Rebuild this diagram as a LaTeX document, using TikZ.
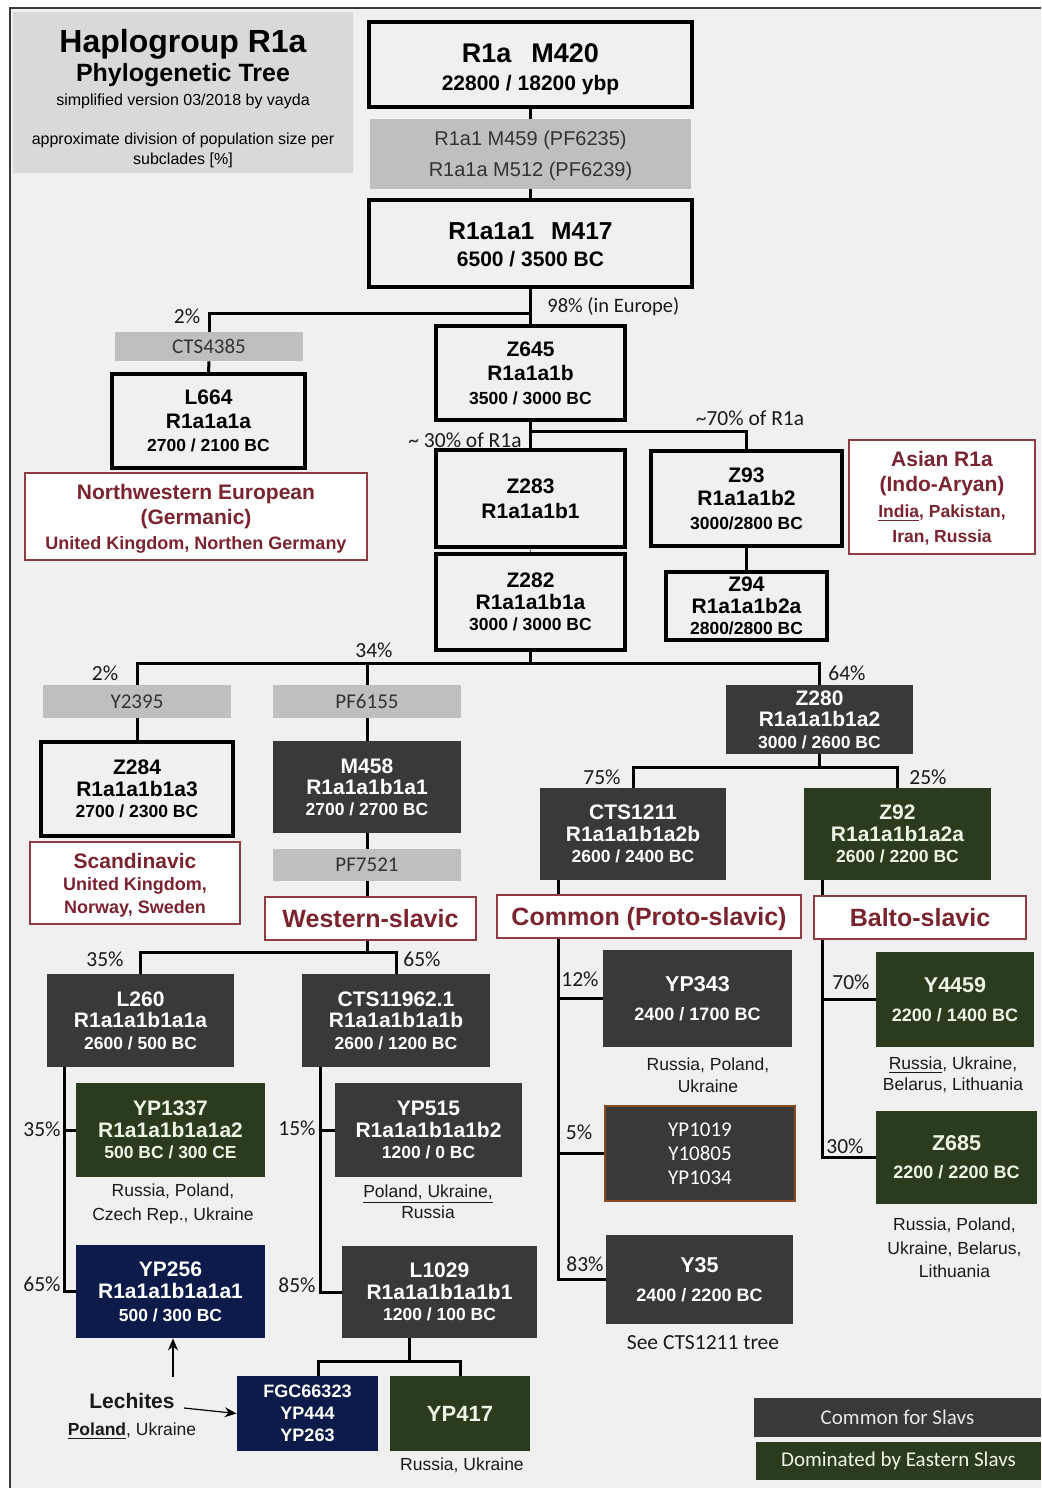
\documentclass[tikz,border=0pt]{standalone}
\usepackage{fontspec}
\setmainfont{Liberation Sans}
\newfontfamily\calib{Carlito}
\usetikzlibrary{arrows.meta}
\definecolor{bgc}{HTML}{F0F0F0}
\definecolor{tgray}{HTML}{D9D9D9}
\definecolor{mgray}{HTML}{BFBFBF}
\definecolor{mtxt}{HTML}{333333}
\definecolor{dk}{HTML}{3B3838}
\definecolor{grn}{HTML}{2B3C1E}
\definecolor{grntxt}{HTML}{EEF5E6}
\definecolor{nav}{HTML}{0D1B4A}
\definecolor{redt}{HTML}{7A2430}
\definecolor{redb}{HTML}{8E3B42}
\definecolor{brn}{HTML}{8A4A22}
\definecolor{frm}{HTML}{3A3A3A}
\definecolor{lgt}{HTML}{E8E8E8}
\definecolor{captc}{HTML}{1A1A1A}
\newcommand\fz[2]{\fontsize{#1}{#2}\selectfont}
\newcommand\dt[1]{{\fz{8.75}{11}#1}}
\newcommand\nodp[1]{\raisebox{0pt}[\height][0pt]{#1}}
\newcommand\bx[7]{%
  \pgfmathsetmacro\bxw{(#4-#2)*0.5}%
  \pgfmathsetmacro\bxh{(#5-#3)*0.5}%
  \node[#6,minimum width=\bxw pt,minimum height=\bxh pt] (#1) at ({(#2+#4)/2},{(#3+#5)/2}) {#7};}
\tikzset{
 wb/.style={draw=black,line width=1.6pt,fill=bgc,inner sep=0pt,align=center,text=black},
 db/.style={fill=dk,inner sep=0pt,align=center,text=white},
 gb/.style={fill=grn,inner sep=0pt,align=center,text=grntxt},
 nb/.style={fill=nav,inner sep=0pt,align=center,text=white},
 mb/.style={fill=mgray,inner sep=0pt,align=center,text=mtxt,font=\calib\fz{10.5}{12}},
 rb/.style={draw=redb,line width=0.8pt,fill=white,inner sep=0pt,align=center,text=redt},
 con/.style={line width=1.5pt,draw=black},
 thincon/.style={line width=0.7pt,draw=black!60},
 pct/.style={inner sep=0pt,font=\calib\fz{10.75}{12},text=captc},
 capt/.style={inner sep=0pt,align=center,anchor=north,text=captc},
 arr/.style={-{Stealth[length=6pt,width=5pt]},line width=0.6pt,draw=black},
}
\begin{document}
\lineskiplimit=-100pt
\begin{tikzpicture}[x=0.5pt,y=-0.5pt]
\useasboundingbox (0,0) rectangle (1041,1488);
% frame
\fill[bgc] (10,8) rectangle (1041,1488);
\draw[frm,line width=1pt] (10,1488) -- (10,8) -- (1041,8);
% title
\bx{title}{13}{12}{353}{173}{fill=tgray,inner sep=0pt}{}
\node[anchor=north,align=center,inner sep=0pt,font=\fz{8}{10},text=black] (ttl) at (183,28.5)
 {{\bfseries\fz{16}{10}Haplogroup R1a}\\[4.5pt]{\bfseries\fz{12.5}{10}Phylogenetic Tree}\\[2pt]simplified version 03/2018 by vayda\\[9.5pt]approximate division of population size per\\subclades [\%]};
% top part
\bx{top}{369}{22}{692}{107}{wb,font=\bfseries\fz{10.5}{14}}{{\fz{13.5}{14}\rule{0pt}{11.9pt}R1a\hspace{10pt}M420}\\\smash{22800 / 18200 ybp}}
\bx{gray1}{370}{119}{691}{189}{mb,font=\fz{10}{15.5}}{R1a1 M459 (PF6235)\\\smash{R1a1a M512 (PF6239)}}
\bx{M417}{369}{200}{692}{287}{wb,font=\bfseries\fz{10.5}{13.5}}{{\fz{12.25}{13.5}\rule{0pt}{9.9pt}R1a1a1\hspace{8.5pt}M417}\\6500 / 3500 BC}
\bx{CTS4385}{115}{332}{303}{361}{mb}{CTS4385}
\bx{L664}{112}{374}{305}{468}{wb,font=\bfseries\fz{10.5}{11.75}}{L664\\R1a1a1a\\\dt{2700 / 2100 BC}}
\bx{NWE}{25}{473}{367}{560}{rb,font=\bfseries\fz{10.5}{12.5}}{Northwestern European\\(Germanic)\\\smash{\fz{9}{12.5}United Kingdom, Northen Germany}}
\bx{Z645}{436}{326}{625}{420}{wb,font=\bfseries\fz{10.5}{12}}{Z645\\R1a1a1b\\\dt{3500 / 3000 BC}}
\bx{Z283}{436}{450}{625}{547}{wb,font=\bfseries\fz{10.5}{12.5}}{Z283\\R1a1a1b1}
\bx{Z282}{436}{554}{625}{650}{wb,font=\bfseries\fz{10.5}{10.75}}{Z282\\R1a1a1b1a\\\dt{3000 / 3000 BC}}
\bx{Z93}{651}{451}{842}{546}{wb,font=\bfseries\fz{10.5}{11.75}}{Z93\\R1a1a1b2\\\dt{3000/2800 BC}}
\bx{Z94}{666}{572}{827}{640}{wb,font=\bfseries\fz{10.5}{10.75}}{Z94\\R1a1a1b2a\\\dt{2800/2800 BC}}
\bx{Asian}{849}{440}{1035}{554}{rb,font=\bfseries\fz{10.5}{12.75}}{Asian R1a\\(Indo-Aryan)\\{\fz{8.75}{12.75}\underline{India}, Pakistan,}\\\smash{\fz{8.75}{12.75}Iran, Russia}}
% level Z282 children
\bx{Y2395}{43}{685}{231}{718}{mb}{Y2395}
\bx{Z284}{41}{742}{233}{836}{wb,font=\bfseries\fz{10.5}{10.75}}{Z284\\R1a1a1b1a3\\\dt{2700 / 2300 BC}}
\bx{Scand}{30}{842}{240}{924}{rb,font=\bfseries\fz{10.5}{11.25}}{Scandinavic\\{\fz{9}{11.25}United Kingdom,}\\\smash{\fz{9}{11.25}Norway, Sweden}}
\bx{PF6155}{273}{685}{461}{718}{mb}{PF6155}
\bx{M458}{273}{741}{461}{833}{db,font=\bfseries\fz{10.5}{10.5}}{M458\\R1a1a1b1a1\\\dt{2700 / 2700 BC}}
\bx{PF7521}{273}{849}{461}{881}{mb}{PF7521}
\bx{WS}{265}{897}{476}{940}{rb,font=\bfseries\fz{12.5}{14}}{Western-slavic}
\bx{Z280}{726}{685}{913}{754}{db,font=\bfseries\fz{10.5}{10.75}}{Z280\\R1a1a1b1a2\\\dt{3000 / 2600 BC}}
\bx{CTS1211}{540}{788}{726}{880}{db,font=\bfseries\fz{10.5}{10.75}}{CTS1211\\R1a1a1b1a2b\\\dt{2600 / 2400 BC}}
\bx{Z92}{804}{788}{991}{880}{gb,font=\bfseries\fz{10.5}{10.75}}{Z92\\R1a1a1b1a2a\\\dt{2600 / 2200 BC}}
\bx{Common}{497}{895}{801}{938}{rb,font=\bfseries\fz{12.5}{14}}{\nodp{Common (Proto-slavic)}}
\bx{Balto}{814}{896}{1026}{939}{rb,font=\bfseries\fz{12.5}{14}}{Balto-slavic}
% western slavic subtree
\bx{L260}{47}{974}{234}{1067}{db,font=\bfseries\fz{10.5}{10.75}}{L260\\R1a1a1b1a1a\\\dt{2600 / 500 BC}}
\bx{CTS11962}{302}{974}{490}{1067}{db,font=\bfseries\fz{10.5}{10.75}}{CTS11962.1\\R1a1a1b1a1b\\\dt{2600 / 1200 BC}}
\bx{YP1337}{76}{1083}{265}{1177}{gb,font=\bfseries\fz{10.5}{10.75}}{YP1337\\R1a1a1b1a1a2\\\dt{500 BC / 300 CE}}
\bx{YP256}{76}{1245}{265}{1338}{nb,font=\bfseries\fz{10.5}{11.25}}{YP256\\R1a1a1b1a1a1\\\dt{500 / 300 BC}}
\bx{YP515}{335}{1083}{522}{1177}{db,font=\bfseries\fz{10.5}{10.75}}{YP515\\R1a1a1b1a1b2\\\dt{1200 / 0 BC}}
\bx{L1029}{342}{1246}{537}{1338}{db,font=\bfseries\fz{10.5}{10.75}}{L1029\\R1a1a1b1a1b1\\\dt{1200 / 100 BC}}
\bx{FGC}{237}{1376}{378}{1451}{nb,font=\bfseries\fz{9}{11}}{FGC66323\\YP444\\YP263}
\bx{YP417}{390}{1376}{530}{1451}{gb,font=\bfseries\fz{11}{12}}{YP417}
% common / balto subtree
\bx{YP343}{603}{950}{792}{1047}{db,font=\bfseries\fz{10.75}{14.5}}{YP343\\{\fz{9}{14.5}2400 / 1700 BC}}
\bx{YP1019}{605}{1106}{795}{1201}{db,draw=brn,line width=0.8pt,font=\calib\fz{10.5}{12}}{YP1019\\Y10805\\YP1034}
\bx{Y35}{606}{1235}{793}{1324}{db,font=\bfseries\fz{10.75}{14.5}}{Y35\\{\fz{9}{14.5}2400 / 2200 BC}}
\bx{Y4459}{876}{952}{1034}{1047}{gb,font=\bfseries\fz{10.75}{14.5}}{Y4459\\{\fz{9}{14.5}2200 / 1400 BC}}
\bx{Z685}{876}{1111}{1037}{1204}{gb,font=\bfseries\fz{10.75}{14}}{Z685\\{\fz{9}{14}2200 / 2200 BC}}
% legend
\bx{leg1}{754}{1398}{1041}{1437}{db,text=lgt,font=\calib\fz{10.5}{12}}{Common for Slavs}
\bx{leg2}{756}{1442}{1041}{1480}{gb,font=\calib\fz{10.5}{12}}{Dominated by Eastern Slavs}
% connectors
\coordinate (j1) at (530.5,313);
\coordinate (j2) at (530.5,431);
\coordinate (j3) at (530.5,663);
\coordinate (j4) at (367,952);
\coordinate (j5) at (819.5,767);
\coordinate (j6) at (409,1361);
\coordinate (f1) at (318,1361);
\coordinate (t1) at (558,1279);
\coordinate (t2) at (822,1158);
\coordinate (t3) at (64,1291);
\coordinate (t4) at (320,1292);
\draw[con] (top.south) -- (gray1.north);
\draw[con] (gray1.south) -- (M417.north);
\draw[con] (M417.south) -- (Z645.north);
\draw[con] (j1) -| (CTS4385.north);
\draw[con] (CTS4385.south) -- (L664.north);
\draw[con] (Z645.south) -- (Z283.north);
\draw[con] (j2) -| (Z93.north);
\draw[thincon] (Z283.south) -- (Z282.north);
\draw[con] (Z93.south) -- (Z94.north);
\draw[con] (Z282.south) -- (j3);
\draw[con] (Y2395.north) |- (j3) -| (Z280.north);
\draw[con] (PF6155.north |- j3) -- (PF6155.north);
\draw[con] (Y2395.south) -- (Z284.north);
\draw[con] (PF6155.south) -- (M458.north);
\draw[con] (M458.south) -- (PF7521.north);
\draw[con] (PF7521.south) -- (PF7521.south |- WS.north);
\draw[con] (WS.south -| j4) -- (j4);
\draw[con] (L260.north) |- (j4) -| (CTS11962.north);
\draw[con] (Z280.south) -- (j5);
\draw[con] (CTS1211.north) |- (j5) -| (Z92.north);
\draw[con] (CTS1211.south -| t1) -- (Common.north -| t1);
\draw[con] (Common.south -| t1) |- (Y35.west);
\draw[con] (t1 |- YP343.west) -- (YP343.west);
\draw[con] (t1 |- YP1019.west) -- (YP1019.west);
\draw[con] (Z92.south -| t2) -- (Balto.north -| t2);
\draw[con] (Balto.south -| t2) |- (Z685.west);
\draw[con] (t2 |- Y4459.west) -- (Y4459.west);
\draw[con] (L260.south -| t3) |- (YP256.west);
\draw[con] (t3 |- YP1337.west) -- (YP1337.west);
\draw[con] (CTS11962.south -| t4) |- (L1029.west);
\draw[con] (t4 |- YP515.west) -- (YP515.west);
\draw[con] (L1029.south -| j6) -- (j6);
\draw[con] (FGC.north -| f1) -- (f1) -- (j6) -| (YP417.north);
% percent labels
\node[pct] (p1) at (187,316) {2\%};
\node[pct,font=\calib\fz{10.25}{12},anchor=west] (p2) at (547,307) {98\% (in Europe)};
\node[pct] (p3) at (750,418) {\textasciitilde70\% of R1a};
\node[pct,anchor=east] (p4) at (522,440) {\textasciitilde{} 30\% of R1a};
\node[pct] (p5) at (374,650) {34\%};
\node[pct] (p6) at (105,673) {2\%};
\node[pct] (p7) at (847,673) {64\%};
\node[pct] (p8) at (602,777) {75\%};
\node[pct] (p9) at (928,777) {25\%};
\node[pct] (p10) at (105,959) {35\%};
\node[pct] (p11) at (422,959) {65\%};
\node[pct] (p12) at (42,1129) {35\%};
\node[pct] (p13) at (42,1284) {65\%};
\node[pct] (p14) at (297,1128) {15\%};
\node[pct] (p15) at (297,1285) {85\%};
\node[pct] (p16) at (580,979) {12\%};
\node[pct] (p17) at (579,1132) {5\%};
\node[pct] (p18) at (585,1264) {83\%};
\node[pct] (p19) at (851,982) {70\%};
\node[pct] (p20) at (845,1146) {30\%};
% captions
\node[capt,font=\fz{8.75}{12}] (c1) at (173,1183.7) {Russia, Poland,\\Czech Rep., Ukraine};
\node[capt,font=\fz{8.75}{10.5}] (c2) at (428,1184.7) {\underline{Poland, Ukraine,}\\Russia};
\node[inner sep=0pt,font=\fz{8.75}{12},text=captc] (c3) at (462,1465) {Russia, Ukraine};
\node[capt,font=\fz{8.75}{13.5}] (lech) at (132,1392.5) {{\bfseries\fz{10.5}{13.5}Lechites}\\\underline{\textbf{Poland}}, Ukraine};
\node[capt,font=\fz{8.75}{11}] (c5) at (708,1057.7) {Russia, Poland,\\Ukraine};
\node[capt,font=\fz{8.75}{10.5}] (c6) at (953,1056.7) {\underline{Russia}, Ukraine,\\Belarus, Lithuania};
\node[capt,font=\fz{8.75}{11.75}] (c7) at (954.5,1217.7) {Russia, Poland,\\Ukraine, Belarus,\\Lithuania};
\node[inner sep=0pt,font=\calib\fz{10.75}{12},text=captc] (c8) at (703,1343) {See CTS1211 tree};
% Lechites arrows
\coordinate (a1) at (173,1377);
\coordinate (a2) at (184,1408);
\draw[arr] (a1) -- (YP256.south -| a1);
\draw[arr] (a2) -- (FGC.west);
\end{tikzpicture}
\end{document}
